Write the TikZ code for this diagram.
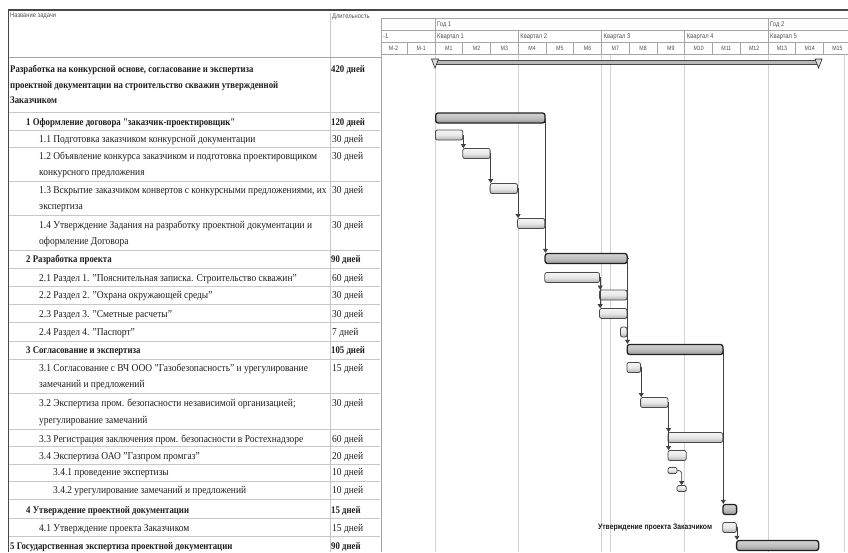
\documentclass[tikz,border=0pt]{standalone}
\usepackage{fontspec}
\setmainfont{Liberation Serif}[FakeStretch=0.9]
\newfontfamily\boldserif{Liberation Serif Bold}[FakeStretch=0.86]
\newfontfamily\uisans{Liberation Sans}[FakeStretch=0.85]
\usetikzlibrary{arrows.meta}

\definecolor{ink}{HTML}{1E1E1E}
\definecolor{gridc}{HTML}{D2D2D2}
\definecolor{rulec}{HTML}{C8C8C8}
\definecolor{framec}{HTML}{474747}
\definecolor{hdrline}{HTML}{A5A5A5}
\definecolor{hdrtxt}{HTML}{505050}
\definecolor{barline}{HTML}{4A4A4A}
\definecolor{sumline}{HTML}{222222}

\tikzset{
  rowtxt/.style={anchor=base west, inner sep=0pt, yshift=-3.6pt, text=ink,
    font=\fontsize{10.5}{12}\selectfont},
  sumtxt/.style={rowtxt, font=\boldserif\fontsize{10.2}{12}\selectfont},
  hdr/.style={anchor=base west, inner sep=0pt, yshift=-2.4pt, text=hdrtxt,
    font=\uisans\fontsize{6.8}{8}\selectfont},
  mlabel/.style={anchor=base, inner sep=0pt, yshift=-2.2pt, text=hdrtxt,
    font=\uisans\fontsize{6.2}{7}\selectfont},
  taskbar/.style={draw=barline, line width=0.8pt, rounded corners=2pt, inner sep=0pt,
    minimum height=10pt, top color=gray!8, bottom color=gray!60, middle color=gray!18},
  sumbar/.style={draw=sumline, line width=1.3pt, rounded corners=2.5pt, inner sep=0pt,
    minimum height=10pt, top color=gray!35, bottom color=gray!80, middle color=gray!50},
  minibar/.style={taskbar, minimum height=6pt, rounded corners=1.5pt},
  projbar/.style={draw=gray!55!black, line width=0.5pt, fill=gray!55, inner sep=0pt,
    minimum height=4pt},
  endmark/.style={draw=gray!30!black, line width=0.6pt, fill=gray!25},
  link/.style={draw=ink!85, line width=0.7pt, -{Triangle[length=4pt,width=5pt]}},
  barlabel/.style={anchor=east, inner sep=0pt, text=ink,
    font=\uisans\fontsize{8}{9}\selectfont\bfseries},
}

% style, name, first day, last day, vertical centre
\newcommand\ganttbar[5]{%
  \node[#1, minimum width={0.912*(#4-#3)*1pt}, anchor=west] (#2) at ({435+0.912*#3}, #5) {};}

\begin{document}
\begin{tikzpicture}[x=1pt,y=-1pt]
\useasboundingbox (0,0) rectangle (848,552);
\fill[white] (0,0) rectangle (848,552);

% ---- chart body gridlines
\foreach \gx in {435,518.25,601.5,610.5,684.75,768,844}
  \draw[gridc, line width=0.8pt] (\gx,54) -- (\gx,552);

% ---- table row rules and columns
\foreach \ry in {112,130,147,181,215,250,268,286,304,322,341,359,393,429,446,464,481,499,518,536}
  \draw[rulec, line width=0.7pt] (9,\ry) -- (380,\ry);
\draw[rulec, line width=0.7pt] (330,13) -- (330,552);
\draw[hdrline, line width=0.8pt] (381,18) -- (381,552);

% ---- frame and headers
\draw[framec, line width=1.6pt] (8,10) -- (848,10);
\draw[framec, line width=1.2pt] (8.5,10) -- (8.5,552);
\draw[hdrline, line width=0.8pt] (9,57) -- (381,57);
\foreach \hy in {18,30,42,54}
  \draw[hdrline, line width=0.7pt] (381,\hy) -- (848,\hy);
\foreach \vx in {435,768}
  \draw[hdrline, line width=0.7pt] (\vx,18) -- (\vx,30);
\foreach \vx in {435,518.25,601.5,684.75,768}
  \draw[hdrline, line width=0.7pt] (\vx,30) -- (\vx,42);
\foreach \i in {1,...,17}
  \draw[hdrline, line width=0.7pt] ({379.5+27.75*\i},42) -- ({379.5+27.75*\i},54);

\node[hdr] (hname) at (10,15) {Название задачи};
\node[hdr] (hdur) at (332,16) {Длительность};

\node[hdr] (y1) at (437,24) {Год 1};
\node[hdr] (y2) at (770,24) {Год 2};
\node[hdr] (q0) at (383,36) {-1};
\node[hdr] (q1) at (437,36) {Квартал 1};
\node[hdr] (q2) at (520.25,36) {Квартал 2};
\node[hdr] (q3) at (603.5,36) {Квартал 3};
\node[hdr] (q4) at (686.75,36) {Квартал 4};
\node[hdr] (q5) at (770,36) {Квартал 5};
\foreach \m [count=\i from 0] in {М-2,М-1,М1,М2,М3,М4,М5,М6,М7,М8,М9,М10,М11,М12,М13,М14,М15}
  \node[mlabel] (m\i) at ({379.5+27.75*\i+13.9},48) {\m};

% ---- task names and durations
\node[sumtxt] (t0a) at (10,69) {Разработка на конкурсной основе, согласование и экспертиза};
\node[sumtxt] (t0b) at (10,85) {проектной документации на строительство скважин утвержденной};
\node[sumtxt] (t0c) at (10,100) {Заказчиком};
\node[sumtxt] (d0) at (331,69) {420 дней};

\node[sumtxt] (t1) at (26,122) {1 Оформление договора "заказчик-проектировщик"};
\node[sumtxt] (d1) at (331,122) {120 дней};
\node[rowtxt] (t11) at (39,139) {1.1 Подготовка заказчиком конкурсной документации};
\node[rowtxt] (d11) at (332,139) {30 дней};
\node[rowtxt] (t12a) at (39,156) {1.2 Объявление конкурса заказчиком и подготовка проектировщиком};
\node[rowtxt] (t12b) at (39,172) {конкурсного предложения};
\node[rowtxt] (d12) at (332,156) {30 дней};
\node[rowtxt] (t13a) at (39,190) {1.3 Вскрытие заказчиком конвертов с конкурсными предложениями, их};
\node[rowtxt] (t13b) at (39,206) {экспертиза};
\node[rowtxt] (d13) at (332,190) {30 дней};
\node[rowtxt] (t14a) at (39,225) {1.4 Утверждение Задания на разработку проектной документации и};
\node[rowtxt] (t14b) at (39,241) {оформление Договора};
\node[rowtxt] (d14) at (332,225) {30 дней};

\node[sumtxt] (t2) at (26,259) {2 Разработка проекта};
\node[sumtxt] (d2) at (331,259) {90 дней};
\node[rowtxt] (t21) at (39,277.5) {2.1 Раздел 1. "Пояснительная записка. Строительство скважин"};
\node[rowtxt] (d21) at (332,277.5) {60 дней};
\node[rowtxt] (t22) at (39,295) {2.2 Раздел 2. "Охрана окружающей среды"};
\node[rowtxt] (d22) at (332,295) {30 дней};
\node[rowtxt] (t23) at (39,313.5) {2.3 Раздел 3. "Сметные расчеты"};
\node[rowtxt] (d23) at (332,313.5) {30 дней};
\node[rowtxt] (t24) at (39,332) {2.4 Раздел 4. "Паспорт"};
\node[rowtxt] (d24) at (332,332) {7 дней};

\node[sumtxt] (t3) at (26,350) {3 Согласование и экспертиза};
\node[sumtxt] (d3) at (331,350) {105 дней};
\node[rowtxt] (t31a) at (39,368) {3.1 Согласование с ВЧ ООО "Газобезопасность" и урегулирование};
\node[rowtxt] (t31b) at (39,384) {замечаний и предложений};
\node[rowtxt] (d31) at (332,368) {15 дней};
\node[rowtxt] (t32a) at (39,403) {3.2 Экспертиза пром. безопасности независимой организацией;};
\node[rowtxt] (t32b) at (39,420) {урегулирование замечаний};
\node[rowtxt] (d32) at (332,403) {30 дней};
\node[rowtxt] (t33) at (39,438.5) {3.3 Регистрация заключения пром. безопасности в Ростехнадзоре};
\node[rowtxt] (d33) at (332,438.5) {60 дней};
\node[rowtxt] (t34) at (39,455.5) {3.4 Экспертиза ОАО "Газпром промгаз"};
\node[rowtxt] (d34) at (332,455.5) {20 дней};
\node[rowtxt] (t341) at (53,472) {3.4.1 проведение экспертизы};
\node[rowtxt] (d341) at (332,472) {10 дней};
\node[rowtxt] (t342) at (53,490) {3.4.2 урегулирование замечаний и предложений};
\node[rowtxt] (d342) at (332,490) {10 дней};

\node[sumtxt] (t4) at (26,509.5) {4 Утверждение проектной документации};
\node[sumtxt] (d4) at (331,509.5) {15 дней};
\node[rowtxt] (t41) at (39,527.5) {4.1 Утверждение проекта Заказчиком};
\node[rowtxt] (d41) at (332,527.5) {15 дней};
\node[sumtxt] (t5) at (10,545.5) {5 Государственная экспертиза проектной документации};
\node[sumtxt] (d5) at (331,545.5) {90 дней};

% ---- project summary bar with its end marks
\ganttbar{projbar}{b0}{0}{420}{62}
\draw[endmark] (b0.west) +(-3.5,-3) -- +(3.5,-3) -- +(0,6) -- cycle;
\draw[endmark] (b0.east) +(-3.5,-3) -- +(3.5,-3) -- +(0,6) -- cycle;

% ---- bars
\ganttbar{sumbar}{b1}{0}{120}{118}
\ganttbar{taskbar}{b11}{0}{30}{135}
\ganttbar{taskbar}{b12}{30}{60}{153.5}
\ganttbar{taskbar}{b13}{60}{90}{188.5}
\ganttbar{taskbar}{b14}{90}{120}{223.5}
\ganttbar{sumbar}{b2}{120}{210}{258.5}
\ganttbar{taskbar}{b21}{120}{180}{277.5}
\ganttbar{taskbar}{b22}{180}{210}{295}
\ganttbar{taskbar}{b23}{180}{210}{313.5}
\ganttbar{taskbar}{b24}{203}{210}{332}
\ganttbar{sumbar}{b3}{210}{315}{349.5}
\ganttbar{taskbar}{b31}{210}{225}{367.5}
\ganttbar{taskbar}{b32}{225}{255}{402.5}
\ganttbar{taskbar}{b33}{255}{315}{437.5}
\ganttbar{taskbar}{b34}{255}{275}{455.5}
\ganttbar{minibar}{b341}{255}{265}{470.5}
\ganttbar{minibar}{b342}{265}{275}{488.5}
\ganttbar{sumbar}{b4}{315}{330}{509.5}
\ganttbar{taskbar}{b41}{315}{330}{527.5}
\ganttbar{sumbar}{b5}{330}{420}{545.5}

\node[barlabel] (l41) at ([xshift=-10pt]b41.west) {Утверждение проекта Заказчиком};

% ---- finish-to-start links
\draw[link] (b1.east) -| ([xshift=1pt]b2.north west);
\draw[link] (b11.east) -| ([xshift=1pt]b12.north west);
\draw[link] (b12.east) -| ([xshift=1pt]b13.north west);
\draw[link] (b13.east) -| ([xshift=1pt]b14.north west);
\draw[link] (b21.east) -| ([xshift=1pt]b22.north west);
\draw[link] (b21.east) -| ([xshift=1pt]b23.north west);
\draw[link] (b2.east) -| ([xshift=1pt]b3.north west);
\draw[link] (b31.east) -| ([xshift=1pt]b32.north west);
\draw[link] (b32.east) -| ([xshift=1pt]b33.north west);
\draw[link] (b32.east) -| ([xshift=1pt]b34.north west);
\draw[link, rounded corners=3pt] (b341.east) -| (b342.north);
\draw[link] (b3.east) -| ([xshift=1pt]b4.north west);
\draw[link] (b41.east) -| ([xshift=1pt]b5.north west);
\end{tikzpicture}
\end{document}
